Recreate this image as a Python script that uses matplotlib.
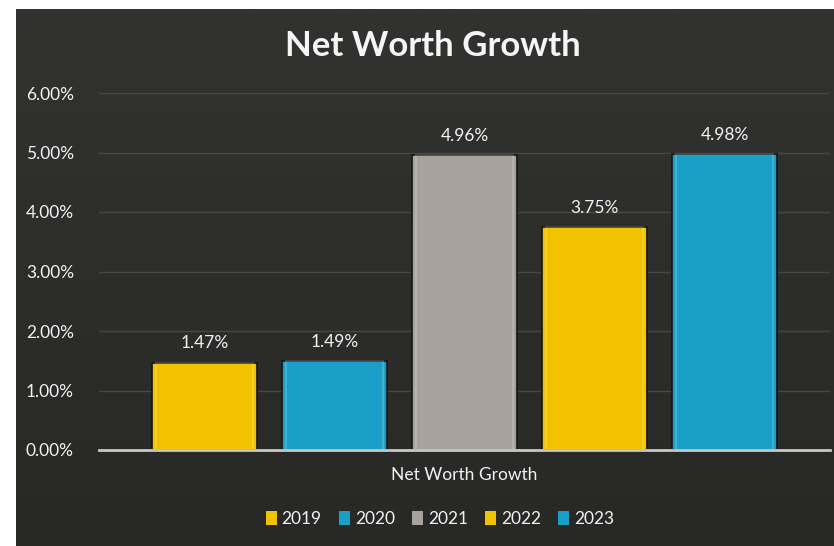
import matplotlib
matplotlib.use("Agg")
import matplotlib.pyplot as plt
import numpy as np
from matplotlib.patches import Patch
from matplotlib.colors import LinearSegmentedColormap

years = ["2019", "2020", "2021", "2022", "2023"]
values = [1.47, 1.49, 4.96, 3.75, 4.98]
labels = ["1.47%", "1.49%", "4.96%", "3.75%", "4.98%"]
colors = ["#F2C200", "#1A9FC9", "#A7A29B", "#F2C200", "#1A9FC9"]
yticks = [0, 1, 2, 3, 4, 5, 6]
ytick_labels = ["0.00%", "1.00%", "2.00%", "3.00%", "4.00%", "5.00%", "6.00%"]

FONT = ["Lato", "DejaVu Sans"]
plt.rcParams["font.family"] = FONT

W, H = 834, 546
fig = plt.figure(figsize=(W / 100, H / 100), dpi=100, facecolor="white")

# dark chart background with subtle gradient
bg = fig.add_axes([16 / W, 0, 1 - 16 / W, 1 - 9 / H], zorder=0)
grad = np.linspace(0, 1, 256).reshape(-1, 1)
cmap = LinearSegmentedColormap.from_list("bg", ["#282827", "#323231"])
bg.imshow(grad, aspect="auto", cmap=cmap, extent=[0, 1, 0, 1], origin="lower")
bg.set_axis_off()

ax = fig.add_axes([99 / W, 1 - 450 / H, 731 / W, (450 - 93) / H], zorder=1)
ax.patch.set_alpha(0)

x = np.arange(len(values))
bw = 105 / 130
ax.bar(x, values, width=bw, color=colors, edgecolor="#151515",
       linewidth=1.2, zorder=3)
# bevel-like highlight inside each bar
for xi, v in zip(x, values):
    ax.bar(xi, v, width=bw * 0.93, bottom=0, color="none",
           edgecolor=(1, 1, 1, 0.18), linewidth=1.5, zorder=4)

for xi, v, lab in zip(x, values, labels):
    ax.annotate(lab, (xi, v), xytext=(0, 8), textcoords="offset points",
                ha="center", va="bottom", color="#F2F2F2", fontsize=12.5)

ax.set_xlim(-0.81, 4.81)
ax.set_ylim(0, 6)
ax.set_yticks(yticks)
ax.set_yticklabels(ytick_labels, color="#F2F2F2", fontsize=12.5)
ax.tick_params(axis="y", length=0, pad=18)
ax.set_xticks([])
ax.grid(axis="y", color="#474745", linewidth=1, zorder=0)
for s in ["top", "right", "left"]:
    ax.spines[s].set_visible(False)
ax.spines["bottom"].set_color("#C8C8C8")
ax.spines["bottom"].set_linewidth(2)
ax.spines["bottom"].set_zorder(5)

ax.set_xlabel("Net Worth Growth", color="#F2F2F2", fontsize=12.5, labelpad=12)

fig.text(433 / W, 1 - 46 / H, "Net Worth Growth", ha="center", va="center",
         color="#F5F5F5", fontsize=25, fontweight="bold")

handles = [Patch(facecolor=c, edgecolor="none") for c in colors]
fig.legend(handles, years, loc="center", bbox_to_anchor=(440 / W, 1 - 519 / H),
           ncol=5, frameon=False, fontsize=12.5, labelcolor="#F2F2F2",
           handlelength=0.6, handleheight=0.9, handletextpad=0.3,
           columnspacing=1.0)

fig.savefig("out.png", dpi=100, facecolor="white")
